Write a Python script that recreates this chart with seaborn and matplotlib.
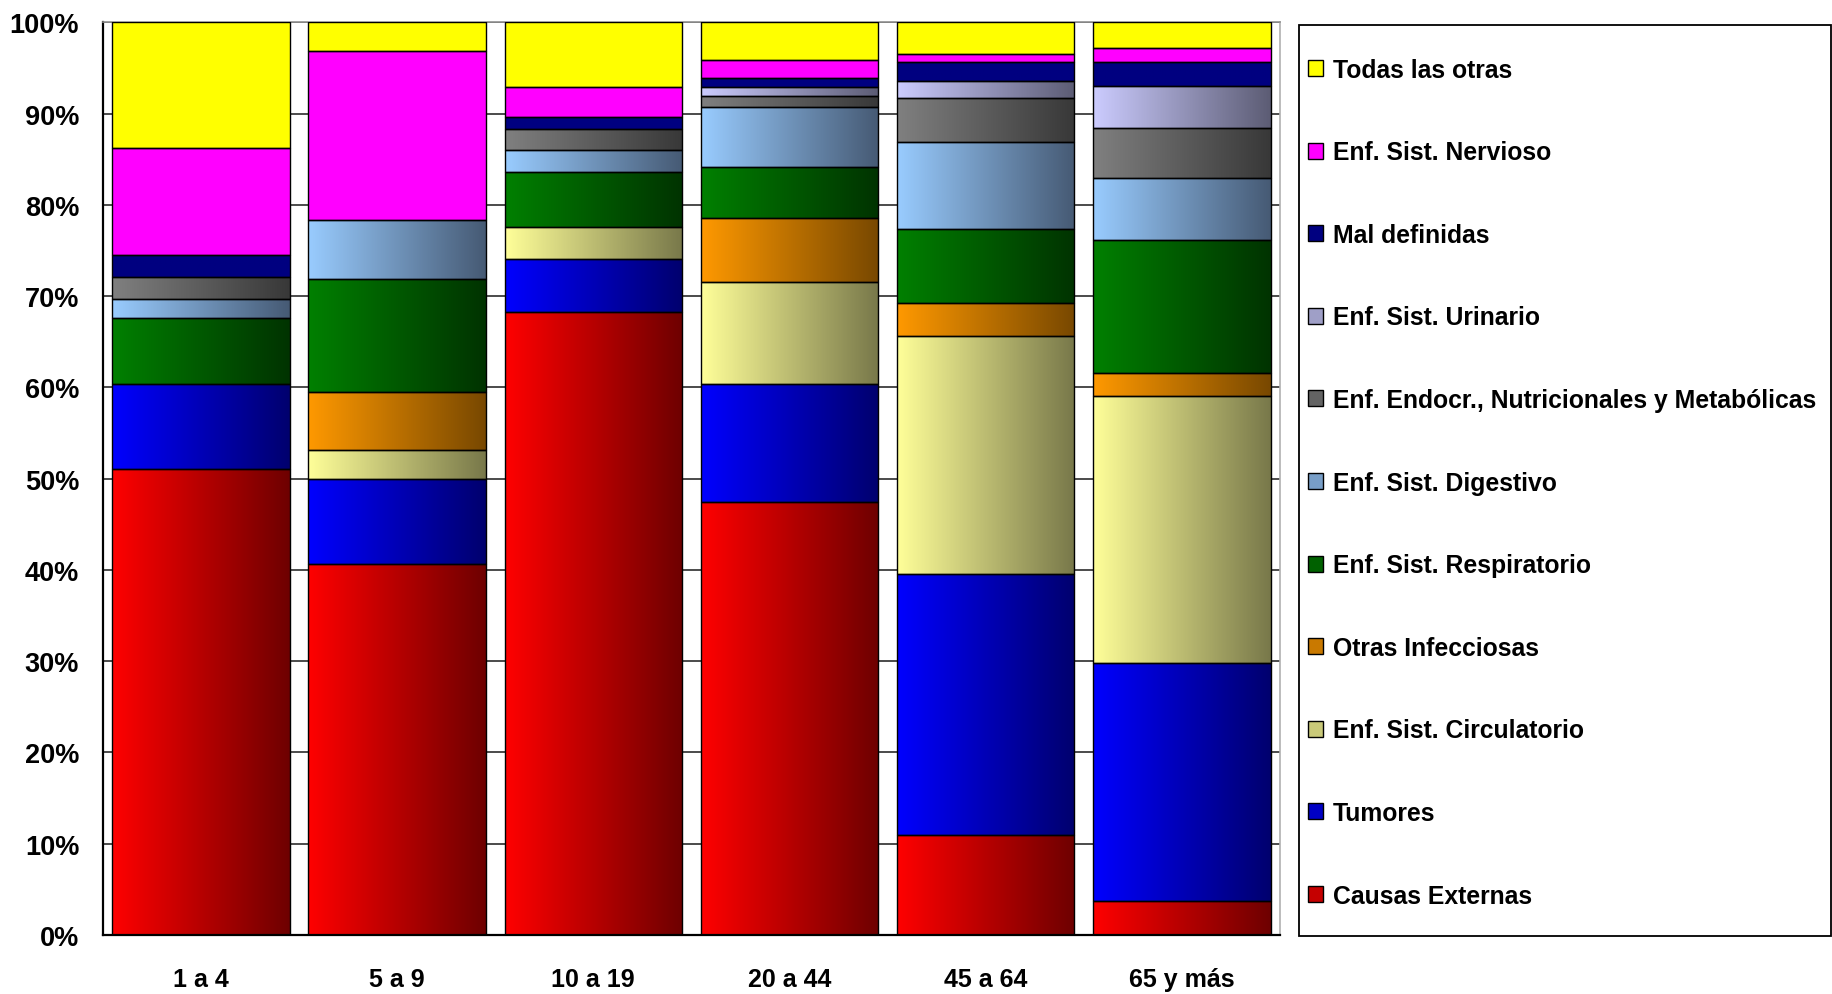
import numpy as np
import pandas as pd
import matplotlib
matplotlib.use("Agg")
import matplotlib.pyplot as plt
from matplotlib.patches import Patch, Rectangle
from matplotlib.colors import to_rgb
import seaborn as sns

# Mortality share by cause (%), per age group
age_groups = ["1 a 4", "5 a 9", "10 a 19", "20 a 44", "45 a 64", "65 y más"]
causas_externas = [51.1, 40.6, 68.3, 47.4, 11.0, 3.7]
tumores = [9.3, 9.4, 5.8, 13.0, 28.6, 26.1]
circulatorio = [0.0, 3.1, 3.5, 11.1, 26.0, 29.3]
otras_infecciosas = [0.0, 6.4, 0.0, 7.1, 3.7, 2.5]
respiratorio = [7.2, 12.4, 6.0, 5.6, 8.1, 14.5]
digestivo = [2.1, 6.4, 2.4, 6.5, 9.5, 6.9]
endocrinas = [2.4, 0.0, 2.3, 1.2, 4.8, 5.4]
urinario = [0.0, 0.0, 0.0, 1.0, 1.9, 4.6]
mal_definidas = [2.4, 0.0, 1.3, 1.0, 2.1, 2.7]
nervioso = [11.7, 18.6, 3.3, 2.0, 0.8, 1.5]
todas_otras = [13.8, 3.1, 7.1, 4.1, 3.5, 2.8]

y_ticks = [0, 10, 20, 30, 40, 50, 60, 70, 80, 90, 100]
y_tick_labels = [f"{t}%" for t in y_ticks]

# (label, values, left colour, right colour) from bottom to top of the stack
series = [
    ("Causas Externas", causas_externas, "#FF0000", "#6E0000"),
    ("Tumores", tumores, "#0000FF", "#00006E"),
    ("Enf. Sist. Circulatorio", circulatorio, "#FFFF99", "#78784A"),
    ("Otras Infecciosas", otras_infecciosas, "#FF9900", "#784800"),
    ("Enf. Sist. Respiratorio", respiratorio, "#008000", "#003300"),
    ("Enf. Sist. Digestivo", digestivo, "#99CCFF", "#465A74"),
    ("Enf. Endocr., Nutricionales y Metabólicas", endocrinas, "#808080", "#383838"),
    ("Enf. Sist. Urinario", urinario, "#CCCCFF", "#5C5C74"),
    ("Mal definidas", mal_definidas, "#000080", "#000080"),
    ("Enf. Sist. Nervioso", nervioso, "#FF00FF", "#FF00FF"),
    ("Todas las otras", todas_otras, "#FFFF00", "#FFFF00"),
]

sns.set_style("white")
plt.rcParams["font.family"] = ["Liberation Sans", "DejaVu Sans"]
plt.rcParams["font.weight"] = "bold"
plt.rcParams["text.color"] = "black"
plt.rcParams["xtick.color"] = "black"
plt.rcParams["ytick.color"] = "black"

fig = plt.figure(figsize=(18.33, 9.95), dpi=100)
ax = fig.add_axes([0.0561, 0.0593, 0.6422, 0.9172])

BAR_W = 0.905
bottom = np.zeros(len(age_groups))
legend_handles = []

for label, values, c_left, c_right in series:
    values = np.asarray(values, dtype=float)
    df = pd.DataFrame({"grupo": age_groups, "pct": values})
    n_before = len(ax.patches)
    sns.barplot(data=df, x="grupo", y="pct", order=age_groups, bottom=bottom,
                width=BAR_W, ax=ax, color=c_left, errorbar=None,
                edgecolor="black", linewidth=1.0)
    new_patches = ax.patches[n_before:]
    c0 = np.array(to_rgb(c_left))
    c1 = np.array(to_rgb(c_right))
    t = np.linspace(0, 1, 256)[:, None]
    grad = (c0 * (1 - t) + c1 * t)[None, :, :]
    for p in new_patches:
        x0, y0 = p.get_x(), p.get_y()
        w, h = p.get_width(), p.get_height()
        p.set_facecolor("none")
        p.set_zorder(3)
        if h <= 0:
            p.set_visible(False)
            continue
        ax.imshow(grad, extent=(x0, x0 + w, y0, y0 + h), aspect="auto",
                  origin="lower", interpolation="bilinear", zorder=2.5)
    mid = c0 * 0.6 + c1 * 0.4
    legend_handles.append(Patch(facecolor=mid, edgecolor="black", linewidth=1.0, label=label))
    bottom = bottom + values

ax.set_xlim(-0.5, len(age_groups) - 0.5)
ax.set_ylim(0, 100)
ax.set_xlabel("")
ax.set_ylabel("")

# horizontal gridlines behind the bars
ax.set_yticks(y_ticks)
ax.set_yticklabels(y_tick_labels)
ax.yaxis.grid(True, color="#1a1a1a", linewidth=1.1, zorder=0)
ax.set_axisbelow(True)

ax.tick_params(axis="y", direction="out", length=6, width=1.4, color="black",
               pad=11, labelsize=19.5, labelcolor="black")
for lbl in ax.get_yticklabels():
    lbl.set_fontweight("bold")

# category labels at centres, tick marks at category boundaries
ax.set_xticks(range(len(age_groups)))
ax.set_xticklabels(age_groups)
ax.set_xticks(np.arange(-0.5, len(age_groups), 1.0), minor=True)
ax.tick_params(axis="x", which="major", length=0, pad=23, labelsize=18,
               labelcolor="black")
ax.tick_params(axis="x", which="minor", direction="out", length=6, width=1.4, color="black")
for lbl in ax.get_xticklabels():
    lbl.set_fontweight("bold")

for side in ["left", "bottom"]:
    ax.spines[side].set_color("black")
    ax.spines[side].set_linewidth(1.6)
ax.spines["top"].set_color("#909090")
ax.spines["top"].set_linewidth(1.2)
ax.spines["right"].set_color("#b0b0b0")
ax.spines["right"].set_linewidth(1.2)

# legend box on the right
fig.patches.append(Rectangle((0.7087, 0.0583), 0.2902, 0.9157, transform=fig.transFigure,
                             facecolor="white", edgecolor="black", linewidth=1.3, zorder=1))
leg = fig.legend(handles=legend_handles[::-1], loc="upper left",
                 bbox_to_anchor=(0.7135, 0.941), frameon=False,
                 fontsize=17.8, labelspacing=2.37, borderpad=0, borderaxespad=0,
                 handlelength=0.62, handleheight=0.62, handletextpad=0.4)
for txt in leg.get_texts():
    txt.set_fontweight("bold")
    txt.set_color("black")
leg.set_zorder(2)

fig.savefig("out.png", dpi=100, facecolor="white")
